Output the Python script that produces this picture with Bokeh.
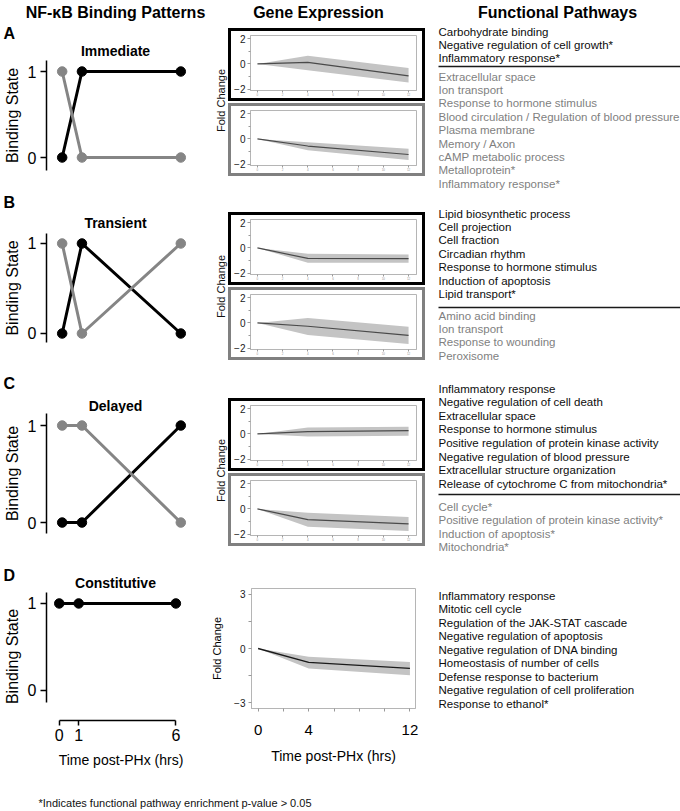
from math import pi
from bokeh.plotting import figure
from bokeh.layouts import row, column
from bokeh.models import Range1d, FixedTicker, Spacer
from bokeh.core.properties import value
from bokeh.embed import file_html
from bokeh.resources import INLINE

FONT = "Liberation Sans"
BLACK = "#000000"
GREY = "#858585"

# ---------------- data ----------------
headers = ["NF-\u03baB Binding Patterns", "Gene Expression", "Functional Pathways"]
panel_letters = ["A", "B", "C", "D"]
panel_titles = ["Immediate", "Transient", "Delayed", "Constitutive"]

bind_times = [0, 1, 6]
a_black = [0, 1, 1]
a_grey = [1, 0, 0]
b_black = [0, 1, 0]
b_grey = [1, 0, 1]
c_black = [0, 0, 1]
c_grey = [1, 1, 0]
d_black = [1, 1, 1]

expr_times = [0, 4, 12]
a1_mean = [0, 0.13, -0.95]
a1_lo = [0, -0.49, -1.46]
a1_hi = [0, 0.64, -0.33]
a2_mean = [0, -0.56, -1.23]
a2_lo = [0, -0.90, -1.67]
a2_hi = [0, -0.26, -0.77]
b1_mean = [0, -0.83, -0.84]
b1_lo = [0, -1.17, -1.17]
b1_hi = [0, -0.46, -0.52]
b2_mean = [0, -0.26, -0.99]
b2_lo = [0, -0.96, -1.66]
b2_hi = [0, 0.39, -0.31]
c1_mean = [0, 0.18, 0.26]
c1_lo = [0, -0.20, -0.15]
c1_hi = [0, 0.51, 0.56]
c2_mean = [0, -0.85, -1.18]
c2_lo = [0, -1.41, -1.74]
c2_hi = [0, -0.31, -0.64]
d_mean = [0, -0.77, -1.10]
d_lo = [0, -1.10, -1.47]
d_hi = [0, -0.46, -0.74]

a_enriched = ["Carbohydrate binding", "Negative regulation of cell growth*", "Inflammatory response*"]
a_other = ["Extracellular space", "Ion transport", "Response to hormone stimulus",
           "Blood circulation / Regulation of blood pressure", "Plasma membrane",
           "Memory / Axon", "cAMP metabolic process", "Metalloprotein*", "Inflammatory response*"]
b_enriched = ["Lipid biosynthetic process", "Cell projection", "Cell fraction", "Circadian rhythm",
              "Response to hormone stimulus", "Induction of apoptosis", "Lipid transport*"]
b_other = ["Amino acid binding", "Ion transport", "Response to wounding", "Peroxisome"]
c_enriched = ["Inflammatory response", "Negative regulation of cell death", "Extracellular space",
              "Response to hormone stimulus", "Positive regulation of protein kinase activity",
              "Negative regulation of blood pressure", "Extracellular structure organization",
              "Release of cytochrome C from mitochondria*"]
c_other = ["Cell cycle*", "Positive regulation of protein kinase activity*",
           "Induction of apoptosis*", "Mitochondria*"]
d_enriched = ["Inflammatory response", "Mitotic cell cycle", "Regulation of the JAK-STAT cascade",
              "Negative regulation of apoptosis", "Negative regulation of DNA binding",
              "Homeostasis of number of cells", "Defense response to bacterium",
              "Negative regulation of cell proliferation", "Response to ethanol*"]

footnote = "*Indicates functional pathway enrichment p-value > 0.05"
time_label = "Time post-PHx (hrs)"

# ---------------- helpers ----------------
def W(fig):
    # wrap each plot on its own so that the layout does not align frames
    return column(fig)


def blank(w, h):
    p = figure(width=w, height=h, x_range=Range1d(0, w), y_range=Range1d(h, 0),
               x_axis_location=None, y_axis_location=None, min_border=0,
               output_backend="svg", toolbar_location=None)
    p.grid.visible = False
    p.outline_line_color = None
    p.background_fill_color = None
    p.border_fill_color = None
    return p


def txt(p, x, y, s, size, color="#000000", bold=False, align="left", angle=0):
    p.text(x=[x], y=[y], text=[s], text_font=value(FONT), text_font_size=size,
           text_font_style="bold" if bold else "normal", text_color=color,
           text_align=align, text_baseline="middle", angle=angle)


def style_axis(ax, size, color="#000000"):
    ax.major_label_text_font = FONT
    ax.major_label_text_font_size = size
    ax.major_label_text_color = color
    ax.axis_label_text_font = FONT
    ax.axis_label_text_font_style = "normal"
    ax.axis_label_text_color = "#000000"


def strip(h, letter, ly, title, ty):
    p = blank(208, h)
    txt(p, 3, ly, letter, "16px", bold=True)
    txt(p, 115, ty, title, "14px", bold=True, align="center")
    return W(p)


def binding(h, top, fh, yr, xr, lines, xaxis=False, ybounds=None):
    p = figure(width=208, height=h, x_range=Range1d(*xr), y_range=Range1d(*yr),
               x_axis_location="below" if xaxis else None, y_axis_location="left",
               min_border=0, min_border_left=43, min_border_right=13,
               min_border_top=top, min_border_bottom=h - top - fh,
               output_backend="svg", toolbar_location=None)
    p.outline_line_color = None
    p.grid.visible = False
    p.background_fill_color = None
    p.border_fill_color = None
    for vals, col in lines:
        p.line(bind_times, vals, line_color=col, line_width=3)
        p.scatter(bind_times, vals, size=9.5, color=col)
    ya = p.yaxis[0]
    ya.ticker = FixedTicker(ticks=[0, 1])
    ya.axis_label = "Binding State"
    style_axis(ya, "16px")
    ya.axis_label_text_font_size = "16px"
    ya.axis_label_standoff = 4
    ya.major_label_standoff = 4
    ya.major_tick_out = 6
    ya.major_tick_in = 0
    ya.minor_tick_out = 0
    ya.minor_tick_in = 0
    ya.axis_line_width = 1.5
    ya.major_tick_line_width = 1.5
    if ybounds is not None:
        ya.bounds = ybounds
    if xaxis:
        xa = p.xaxis[0]
        xa.ticker = FixedTicker(ticks=bind_times)
        xa.bounds = (bind_times[0], bind_times[-1])
        xa.axis_label = time_label
        style_axis(xa, "16px")
        xa.axis_label_text_font_size = "14px"
        xa.axis_label_standoff = 8
        xa.major_label_standoff = 3
        xa.major_tick_out = 5
        xa.major_tick_in = 0
        xa.minor_tick_out = 0
        xa.minor_tick_in = 0
        xa.axis_line_width = 1.5
        xa.major_tick_line_width = 1.5
    return W(p)


def expr(mean, lo, hi, box_color):
    p = figure(width=191, height=67, x_range=Range1d(-0.55, 12.63), y_range=Range1d(-2.1, 2.25),
               min_border=0, min_border_left=17, min_border_right=6,
               min_border_top=4, min_border_bottom=6,
               output_backend="svg", toolbar_location=None)
    p.grid.visible = False
    p.outline_line_color = "#b5b5b5"
    p.background_fill_color = None
    p.border_fill_color = None
    p.varea(x=expr_times, y1=lo, y2=hi, fill_color="#c4c4c4")
    p.line(expr_times, mean, line_color="#4a4a4a", line_width=1.2)
    ya = p.yaxis[0]
    ya.ticker = FixedTicker(ticks=[-2, 0, 2], minor_ticks=[-1, 1])
    style_axis(ya, "10px", "#1a1a1a")
    ya.axis_line_color = "#b5b5b5"
    ya.major_tick_line_color = "#999999"
    ya.minor_tick_line_color = "#999999"
    ya.major_tick_out = 3
    ya.major_tick_in = 0
    ya.minor_tick_out = 2
    ya.minor_tick_in = 0
    ya.major_label_standoff = 2
    xa = p.xaxis[0]
    xa.ticker = FixedTicker(ticks=[0, 2, 4, 6, 8, 10, 12])
    style_axis(xa, "3px", "#999999")
    xa.axis_line_color = "#b5b5b5"
    xa.major_tick_line_color = "#999999"
    xa.major_tick_out = 2
    xa.major_tick_in = 0
    xa.minor_tick_out = 0
    xa.minor_tick_in = 0
    xa.major_label_standoff = 0
    p.styles = {"outline": "3px solid " + box_color}
    return p


def padded(fig):
    return row(Spacer(width=3, height=67), fig, Spacer(width=3, height=67))


def boxes(h, top, gap, f1, f2):
    rest = h - top - 67 - gap - 67
    return column(Spacer(width=197, height=top), padded(f1), Spacer(width=197, height=gap),
                  padded(f2), Spacer(width=197, height=rest))


def fc(h, yc):
    p = blank(20, h)
    txt(p, 12, yc, "Fold Change", "11px", color="#111111", align="center", angle=pi / 2)
    return W(p)


def pathways(h, y0, s, enriched, other=None, sep=None, g0=None):
    p = blank(255, h)
    for i, t in enumerate(enriched):
        txt(p, 13, y0 + i * s, t, "11.5px", color="#0d0d0d")
    if other:
        p.segment(x0=[13], y0=[sep], x1=[255], y1=[sep], line_color="#1a1a1a", line_width=1.5)
        for i, t in enumerate(other):
            txt(p, 13, g0 + i * s, t, "11.5px", color="#7f7f7f")
    return W(p)


# ---------------- header ----------------
head = blank(680, 24)
txt(head, 115, 12, headers[0], "16px", bold=True, align="center")
txt(head, 318, 12, headers[1], "16px", bold=True, align="center")
txt(head, 557, 12, headers[2], "16px", bold=True, align="center")

XR = (-0.793, 6.744)

# ---------------- row A (y 24..190) ----------------
rowA = row(
    column(strip(36, panel_letters[0], 9, panel_titles[0], 26),
           binding(130, 0, 110, (-0.151, 1.128), XR, [(a_black, BLACK), (a_grey, GREY)])),
    fc(166, 76),
    boxes(166, 7, 8, expr(a1_mean, a1_lo, a1_hi, "#000000"), expr(a2_mean, a2_lo, a2_hi, "#808080")),
    pathways(166, 7, 13.4, a_enriched, a_other, 42, 52),
)

# ---------------- row B (y 190..365) ----------------
rowB = row(
    column(strip(42, panel_letters[1], 12, panel_titles[1], 32),
           binding(133, 1, 109, (-0.1, 1.111), XR, [(b_black, BLACK), (b_grey, GREY)])),
    fc(175, 96),
    boxes(175, 25, 8, expr(b1_mean, b1_lo, b1_hi, "#000000"), expr(b2_mean, b2_lo, b2_hi, "#808080")),
    pathways(175, 23, 13.4, b_enriched, b_other, 117, 125),
)

# ---------------- row C (y 365..562) ----------------
rowC = row(
    column(strip(48, panel_letters[2], 18, panel_titles[2], 40),
           binding(149, 0, 120, (-0.113, 1.124), XR, [(c_black, BLACK), (c_grey, GREY)])),
    fc(197, 105),
    boxes(197, 36, 8, expr(c1_mean, c1_lo, c1_hi, "#000000"), expr(c2_mean, c2_lo, c2_hi, "#808080")),
    pathways(197, 23, 13.6, c_enriched, c_other, 129, 141),
)

# ---------------- row D (y 562..780) ----------------
dexpr = figure(width=217, height=218, x_range=Range1d(-0.52, 12.44), y_range=Range1d(-3.31, 3.31),
               min_border=0, min_border_left=40, min_border_right=10,
               min_border_top=26, min_border_bottom=72,
               output_backend="svg", toolbar_location=None)
dexpr.grid.visible = False
dexpr.outline_line_color = "#b5b5b5"
dexpr.background_fill_color = None
dexpr.border_fill_color = None
dexpr.varea(x=expr_times, y1=d_lo, y2=d_hi, fill_color="#c4c4c4")
dexpr.line(expr_times, d_mean, line_color="#1a1a1a", line_width=1.3)
dya = dexpr.yaxis[0]
dya.ticker = FixedTicker(ticks=[-3, 0, 3], minor_ticks=[-1.5, 1.5])
style_axis(dya, "10px", "#1a1a1a")
dya.axis_label = "Fold Change"
dya.axis_label_text_font_size = "11px"
dya.axis_label_standoff = 8
dya.axis_line_color = "#b5b5b5"
dya.major_tick_line_color = "#999999"
dya.minor_tick_line_color = "#999999"
dya.major_tick_out = 3
dya.major_tick_in = 0
dya.minor_tick_out = 3
dya.minor_tick_in = 0
dya.major_label_standoff = 3
dxa = dexpr.xaxis[0]
dxa.ticker = FixedTicker(ticks=expr_times, minor_ticks=[2, 6, 8, 10])
style_axis(dxa, "15px")
dxa.axis_label = time_label
dxa.axis_label_text_font_size = "14px"
dxa.axis_label_standoff = 10
dxa.axis_line_color = "#b5b5b5"
dxa.major_tick_line_color = "#999999"
dxa.minor_tick_line_color = "#999999"
dxa.major_tick_out = 3
dxa.major_tick_in = 0
dxa.minor_tick_out = 3
dxa.minor_tick_in = 0
dxa.major_label_standoff = 13

rowD = row(
    column(strip(28, panel_letters[3], 13, panel_titles[3], 20),
           binding(190, 2, 128, (-0.345, 1.126), (-0.656, 7.01), [(d_black, BLACK)],
                   xaxis=True, ybounds=(-0.138, 1.126))),
    W(dexpr),
    pathways(218, 33, 13.5, d_enriched),
)

# ---------------- footer ----------------
foot = blank(680, 30)
txt(foot, 38, 22, footnote, "11px", color="#111111")

layout = column(W(head), rowA, rowB, rowC, rowD, W(foot))
open("out.html", "w").write(file_html(layout, INLINE))
